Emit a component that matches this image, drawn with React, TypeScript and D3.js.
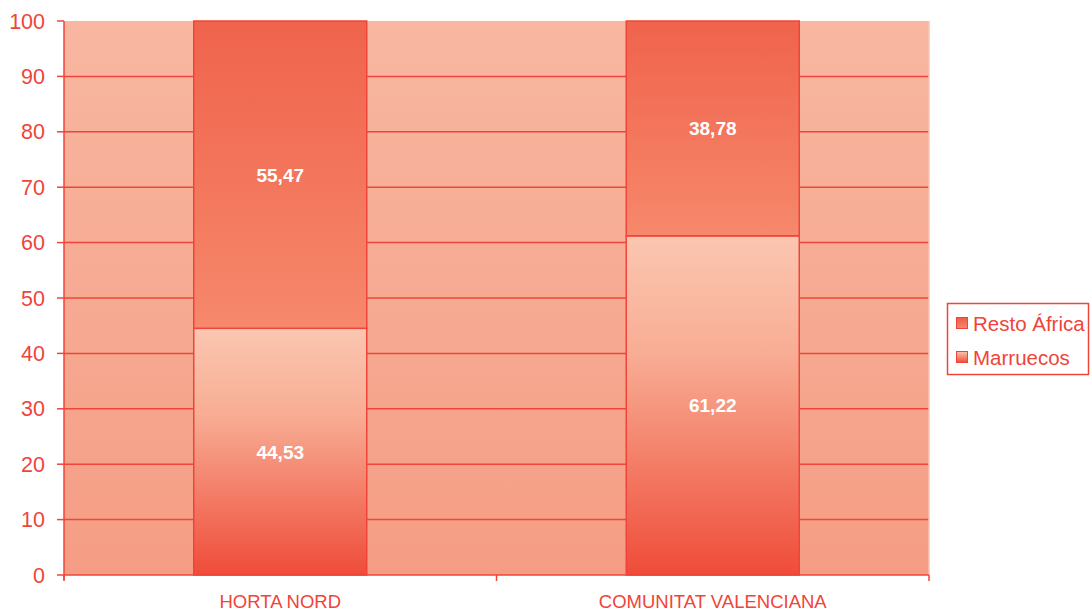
import React from "react";
import * as d3 from "d3";

const categories = ["HORTA NORD", "COMUNITAT VALENCIANA"];
const marruecos = [44.53, 61.22];
const restoAfrica = [55.47, 38.78];
const yTicks = [0, 10, 20, 30, 40, 50, 60, 70, 80, 90, 100];
const seriesNames = ["Resto África", "Marruecos"];

const W = 1090, H = 613;
const M = { left: 64, right: 161, top: 21, bottom: 38 };
const RED = "#F0443A";
const FONT = "'Liberation Sans', Arial, sans-serif";

export default function App() {
  const x = d3.scaleBand().domain(categories).range([M.left, W - M.right]).paddingInner(0).paddingOuter(0);
  const y = d3.scaleLinear().domain([0, 100]).range([H - M.bottom, M.top]);
  const bw = x.bandwidth() * 0.4;
  const fmt = (v: number) => v.toFixed(2).replace(".", ",");
  const x0 = M.left, x1 = W - M.right;
  return (
    <svg width={W} height={H} style={{ position: "absolute", left: 0, top: 0 }}>
      <defs>
        <linearGradient id="bg" x1="0" y1="0" x2="0" y2="1">
          <stop offset="0" stopColor="#F8B7A1" />
          <stop offset="1" stopColor="#F59D84" />
        </linearGradient>
        <linearGradient id="gM" x1="0" y1="0" x2="0" y2="1">
          <stop offset="0" stopColor="#FBC6B0" />
          <stop offset="0.35" stopColor="#F8AD94" />
          <stop offset="1" stopColor="#EF4C39" />
        </linearGradient>
        <linearGradient id="gR" x1="0" y1="0" x2="0" y2="1">
          <stop offset="0" stopColor="#F0634C" />
          <stop offset="1" stopColor="#F6886B" />
        </linearGradient>
        <linearGradient id="lgR" x1="0" y1="0" x2="0" y2="1">
          <stop offset="0" stopColor="#EF5A45" />
          <stop offset="1" stopColor="#F6886B" />
        </linearGradient>
        <linearGradient id="lgM" x1="0" y1="0" x2="0" y2="1">
          <stop offset="0" stopColor="#FBC6B0" />
          <stop offset="1" stopColor="#EF4C39" />
        </linearGradient>
      </defs>
      <rect x={x0} y={y(100)} width={x1 - x0} height={y(0) - y(100)} fill="url(#bg)" />
      {yTicks.filter(t => t > 0 && t < 100).map(t => (
        <line key={t} x1={x0} x2={x1} y1={y(t)} y2={y(t)} stroke={RED} strokeWidth={1.5} />
      ))}
      <line x1={x1} x2={x1} y1={y(100)} y2={y(0)} stroke="#F8C4B0" strokeWidth={1.5} />
      {categories.map((c, i) => {
        const cx = (x(c) as number) + x.bandwidth() / 2;
        const bx = cx - bw / 2;
        return (
          <g key={c}>
            <rect x={bx} y={y(marruecos[i])} width={bw} height={y(0) - y(marruecos[i])} fill="url(#gM)" stroke={RED} strokeWidth={1.5} />
            <rect x={bx} y={y(100)} width={bw} height={y(marruecos[i]) - y(100)} fill="url(#gR)" stroke={RED} strokeWidth={1.5} />
            <text x={cx} y={(y(0) + y(marruecos[i])) / 2 + 7} textAnchor="middle" fill="#fff" fontWeight="bold" fontSize={19} fontFamily={FONT}>{fmt(marruecos[i])}</text>
            <text x={cx} y={(y(100) + y(marruecos[i])) / 2 + 7} textAnchor="middle" fill="#fff" fontWeight="bold" fontSize={19} fontFamily={FONT}>{fmt(restoAfrica[i])}</text>
            <text x={cx} y={H - 5} textAnchor="middle" fill={RED} fontSize={18.5} fontFamily={FONT}>{c}</text>
          </g>
        );
      })}
      <line x1={x0} x2={x0} y1={y(100)} y2={y(0) + 5} stroke={RED} strokeWidth={1.5} />
      <line x1={x0} x2={x1} y1={y(0)} y2={y(0)} stroke={RED} strokeWidth={1.5} />
      {yTicks.map(t => (
        <g key={t}>
          <line x1={x0 - 7} x2={x0} y1={y(t)} y2={y(t)} stroke={RED} strokeWidth={1.5} />
          <text x={45} y={y(t) + 7.5} textAnchor="end" fill={RED} fontSize={21.5} fontFamily={FONT}>{t}</text>
        </g>
      ))}
      {[x0, (x0 + x1) / 2, x1].map((v, i) => (
        <line key={i} x1={v} x2={v} y1={y(0)} y2={y(0) + 6} stroke={RED} strokeWidth={1.5} />
      ))}
      <rect x={947.5} y={303.5} width={141} height={71} fill="#fff" stroke={RED} strokeWidth={1.5} />
      {seriesNames.map((s, i) => (
        <g key={s}>
          <rect x={956.5} y={317.5 + i * 34} width={11} height={11} fill={i === 0 ? "url(#lgR)" : "url(#lgM)"} stroke={RED} strokeWidth={1} />
          <text x={973} y={330.5 + i * 34} fill={RED} fontSize={20.5} fontFamily={FONT}>{s}</text>
        </g>
      ))}
    </svg>
  );
}
